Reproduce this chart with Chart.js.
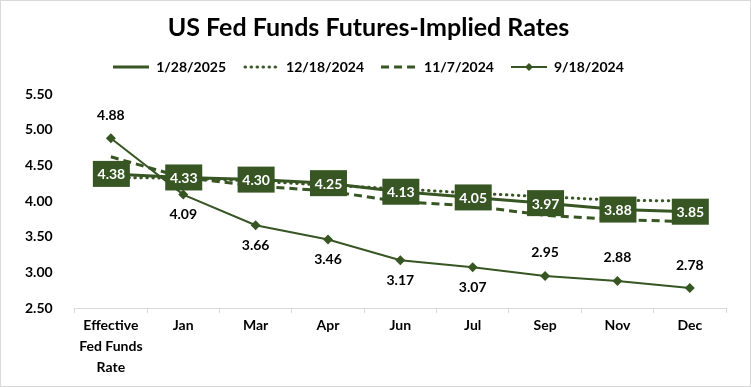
<!DOCTYPE html>
<html>
<head>
<meta charset="utf-8">
<script src="https://cdn.jsdelivr.net/npm/chart.js@4.4.1/dist/chart.umd.min.js"></script>
<style>
  html, body { margin: 0; padding: 0; background: #fff; }
  #wrap { width: 749px; height: 385px; border: 1px solid #d9d9d9; }
</style>
</head>
<body>
<div id="wrap"><canvas id="chart" width="749" height="385"></canvas></div>
<script>
// ===== data =====
const categories = [['Effective', 'Fed Funds', 'Rate'], 'Jan', 'Mar', 'Apr', 'Jun', 'Jul', 'Sep', 'Nov', 'Dec'];
const seriesNames = ['1/28/2025', '12/18/2024', '11/7/2024', '9/18/2024'];
const jan282025 = [4.38, 4.33, 4.30, 4.25, 4.13, 4.05, 3.97, 3.88, 3.85];
const dec182024 = [4.33, 4.32, 4.28, 4.22, 4.17, 4.11, 4.06, 4.01, 4.00];
const nov072024 = [4.62, 4.33, 4.21, 4.14, 3.99, 3.93, 3.80, 3.74, 3.71];
const sep182024 = [4.88, 4.09, 3.66, 3.46, 3.17, 3.07, 2.95, 2.88, 2.78];
const yTicks = [2.5, 3.0, 3.5, 4.0, 4.5, 5.0, 5.5];

// ===== styles =====
const GREEN = '#375623';
const FONT = 'Lato, "Open Sans", sans-serif';
const sepLabelPos = ['above', 'below', 'below', 'below', 'below', 'below', 'above', 'above', 'above'];

// small legend symbols drawn on their own canvas
function legendSymbol(dash, width, marker) {
    const c = document.createElement('canvas');
    c.width = 36; c.height = 10;
    const g = c.getContext('2d');
    g.strokeStyle = GREEN;
    g.lineWidth = width;
    g.lineCap = dash && dash[0] < 2 ? 'round' : 'butt';
    g.setLineDash(dash || []);
    g.beginPath();
    g.moveTo(dash && dash[0] < 2 ? 2 : 0, 5);
    g.lineTo(36, 5);
    g.stroke();
    if (marker) {
        g.fillStyle = GREEN;
        g.beginPath();
        g.moveTo(18, 1); g.lineTo(22, 5); g.lineTo(18, 9); g.lineTo(14, 5);
        g.closePath();
        g.fill();
    }
    return c;
}
const symbols = [
    legendSymbol(null, 3, false),
    legendSymbol([0.5, 5.5], 3, false),
    legendSymbol([8, 5], 3, false),
    legendSymbol(null, 2, true)
];

// extra room under the legend
const legendMargin = {
    id: 'legendMargin',
    beforeInit(chart) {
        const fit = chart.legend.fit;
        chart.legend.fit = function () {
            fit.bind(chart.legend)();
            this.height += 10;
        };
    }
};

// ===== data labels =====
const labelPlugin = {
    id: 'pointLabels',
    afterDatasetsDraw(chart) {
        const ctx = chart.ctx;
        ctx.save();
        ctx.font = 'bold 14px ' + FONT;
        ctx.textAlign = 'center';
        ctx.textBaseline = 'middle';

        const sepMeta = chart.getDatasetMeta(3);
        sepMeta.data.forEach((pt, i) => {
            const dy = sepLabelPos[i] === 'above' ? -23 : 20;
            ctx.fillStyle = '#000';
            ctx.fillText(sep182024[i].toFixed(2), pt.x, pt.y + dy);
        });

        const janMeta = chart.getDatasetMeta(0);
        janMeta.data.forEach((pt, i) => {
            ctx.fillStyle = GREEN;
            ctx.fillRect(pt.x - 18, pt.y - 13, 37, 26);
            ctx.fillStyle = '#fff';
            ctx.fillText(jan282025[i].toFixed(2), pt.x + 0.5, pt.y + 1);
        });
        ctx.restore();
    }
};

new Chart(document.getElementById('chart'), {
    type: 'line',
    data: {
        labels: categories,
        datasets: [
            { label: seriesNames[0], data: jan282025, borderColor: GREEN, borderWidth: 3, pointRadius: 0, tension: 0 },
            { label: seriesNames[1], data: dec182024, borderColor: GREEN, borderWidth: 3, borderDash: [0.5, 5.5], borderCapStyle: 'round', pointRadius: 0 },
            { label: seriesNames[2], data: nov072024, borderColor: GREEN, borderWidth: 3, borderDash: [8, 5], pointRadius: 0 },
            { label: seriesNames[3], data: sep182024, borderColor: GREEN, backgroundColor: GREEN, borderWidth: 2,
              pointStyle: 'rectRot', pointRadius: 5, pointBorderWidth: 0 }
        ]
    },
    options: {
        responsive: false,
        animation: false,
        layout: { padding: { left: 10, right: 24, top: 4, bottom: 6 } },
        plugins: {
            title: {
                display: true,
                text: 'US Fed Funds Futures-Implied Rates',
                color: '#000',
                font: { family: FONT, size: 25, weight: 'bold' },
                padding: { top: 8, bottom: 0 }
            },
            legend: {
                position: 'top',
                labels: {
                    color: '#000',
                    font: { family: FONT, size: 14, weight: 'bold' },
                    usePointStyle: true,
                    pointStyleWidth: 36,
                    boxHeight: 10,
                    padding: 17,
                    generateLabels: chart => seriesNames.map((n, i) => ({
                        text: n, pointStyle: symbols[i], datasetIndex: i,
                        fillStyle: GREEN, strokeStyle: GREEN, lineWidth: 0
                    }))
                }
            },
            tooltip: { enabled: false }
        },
        scales: {
            x: {
                offset: true,
                grid: { display: true, offset: true, drawOnChartArea: false, color: '#d9d9d9', tickLength: 5 },
                border: { color: '#d9d9d9' },
                ticks: { color: '#000', font: { family: FONT, size: 14, weight: 'bold', lineHeight: 1.5 }, maxRotation: 0, padding: 2 }
            },
            y: {
                min: yTicks[0],
                max: yTicks[yTicks.length - 1],
                afterBuildTicks: axis => { axis.ticks = yTicks.map(v => ({ value: v })); },
                grid: { display: false },
                border: { display: false },
                ticks: { color: '#000', font: { family: FONT, size: 14, weight: 'bold' }, padding: 14,
                         callback: v => Number(v).toFixed(2) }
            }
        }
    },
    plugins: [legendMargin, labelPlugin]
});
</script>
</body>
</html>
